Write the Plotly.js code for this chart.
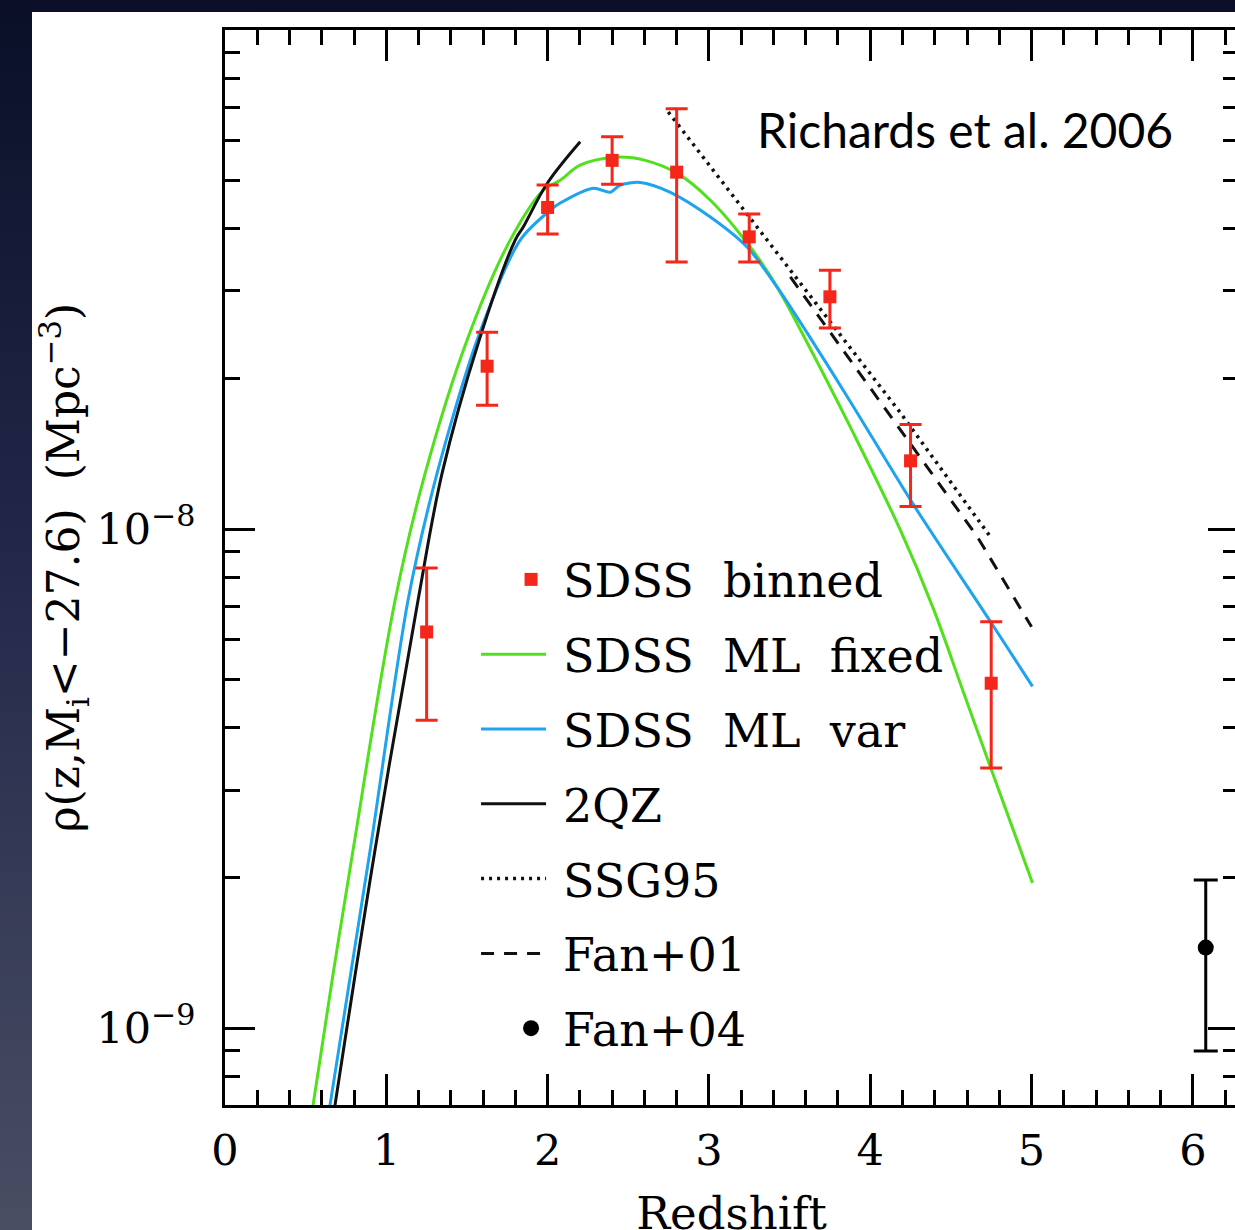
<!DOCTYPE html>
<html>
<head>
<meta charset="utf-8">
<script src="https://cdn.plot.ly/plotly-3.0.1.min.js"></script>
<style>
html,body{margin:0;padding:0;width:1235px;height:1230px;overflow:hidden;
  background:linear-gradient(to bottom,#0a0f27 0%,#23284a 45%,#4a4e63 100%);}
#plot{position:absolute;left:32px;top:12px;}
/* longer legend line samples and markers placed like the original */
#plot .legend .js-line{d:path('M18,0h65');}
#plot .legend .legendpoints .scatterpts{transform:translate(68px,0px);}
</style>
</head>
<body>
<div id="plot"></div>
<script>
// ---- SDSS binned ----
const zBinned   = [1.25, 1.625, 2.0, 2.4, 2.8, 3.25, 3.75, 4.25, 4.75];
const rhoBinned = [6.22e-9, 2.12e-8, 4.41e-8, 5.48e-8, 5.19e-8, 3.85e-8, 2.92e-8, 1.37e-8, 4.91e-9];
const rhoBinnedHi = [8.36e-9, 2.48e-8, 4.89e-8, 6.11e-8, 6.95e-8, 4.28e-8, 3.30e-8, 1.62e-8, 6.52e-9];
const rhoBinnedLo = [4.14e-9, 1.77e-8, 3.90e-8, 4.91e-8, 3.43e-8, 3.43e-8, 2.53e-8, 1.11e-8, 3.32e-9];

// ---- SDSS ML fixed (green) ----
const zFixed   = [0.546, 0.664, 0.794, 1.055, 1.241, 1.501, 1.768, 1.973, 2.078, 2.202, 2.419, 2.605, 2.804, 3.009, 3.257, 3.424, 3.610, 3.877, 4.187, 4.392, 4.578, 4.746, 5.006];
const rhoFixed = [7.01e-10, 1.247e-9, 2.275e-9, 7.21e-9, 1.294e-8, 2.393e-8, 3.793e-8, 4.775e-8, 5.00e-8, 5.36e-8, 5.56e-8, 5.48e-8, 5.16e-8, 4.56e-8, 3.67e-8, 3.05e-8, 2.36e-8, 1.60e-8, 9.95e-9, 6.92e-9, 4.71e-9, 3.33e-9, 1.954e-9];

// ---- SDSS ML var (blue) ----
const zVar   = [0.651, 0.900, 1.135, 1.315, 1.563, 1.830, 2.016, 2.078, 2.283, 2.388, 2.450, 2.574, 2.761, 3.009, 3.238, 3.424, 3.610, 3.877, 4.262, 4.746, 5.006];
const rhoVar = [7.01e-10, 2.275e-9, 7.21e-9, 1.294e-8, 2.393e-8, 3.793e-8, 4.355e-8, 4.50e-8, 4.82e-8, 4.73e-8, 4.89e-8, 4.95e-8, 4.73e-8, 4.22e-8, 3.67e-8, 3.05e-8, 2.47e-8, 1.80e-8, 1.127e-8, 6.52e-9, 4.84e-9];

// ---- 2QZ (black) ----
const z2QZ   = [0.682, 0.930, 1.197, 1.346, 1.576, 1.799, 1.849, 1.998, 2.202];
const rho2QZ = [7.01e-10, 2.275e-9, 7.21e-9, 1.294e-8, 2.393e-8, 3.793e-8, 4.03e-8, 4.93e-8, 5.97e-8];

// ---- SSG95 (dotted) ----
const zSSG   = [2.748, 4.187, 4.746];
const rhoSSG = [6.85e-8, 1.71e-8, 9.64e-9];

// ---- Fan+01 (dashed) ----
const zFan01   = [3.505, 4.665, 5.0];
const rhoFan01 = [3.20e-8, 9.64e-9, 6.37e-9];

// ---- Fan+04 ----
const zFan04 = [6.08];
const rhoFan04 = [1.45e-9];
const rhoFan04Hi = [1.98e-9];
const rhoFan04Lo = [0.90e-9];

// tick labels
const yTickVals = [1e-9, 1e-8, 1e-7];
const yTickText = ['10<sup>\u22129</sup>', '10<sup>\u22128</sup>', '10<sup>\u22127</sup>'];

const serif = 'DejaVu Serif';
const RED = '#f5261a', GREEN = '#52e01e', BLUE = '#1ea4ee';

function diff(a, b) { return a.map((v, i) => v - b[i]); }

const minorY = [];
for (let e = -10; e <= -7; e++) for (let d = 2; d <= 9; d++) minorY.push(d * Math.pow(10, e));

const traces = [
  {x: zFixed, y: rhoFixed, mode: 'lines', name: 'SDSS\u00a0\u00a0ML\u00a0\u00a0fixed', legendgroup: 'g2', legendrank: 2,
   line: {color: GREEN, width: 3, shape: 'spline', smoothing: 1.0}},
  {x: zVar, y: rhoVar, mode: 'lines', name: 'SDSS\u00a0\u00a0ML\u00a0\u00a0var', legendgroup: 'g3', legendrank: 3,
   line: {color: BLUE, width: 3, shape: 'spline', smoothing: 0.8}},
  {x: z2QZ, y: rho2QZ, mode: 'lines', name: '2QZ', legendgroup: 'g4', legendrank: 4,
   line: {color: '#111111', width: 3, shape: 'spline', smoothing: 1.0}},
  {x: zSSG, y: rhoSSG, mode: 'lines', name: 'SSG95', legendgroup: 'g5', legendrank: 5,
   line: {color: '#111111', width: 3.5, dash: '3px,5px'}},
  {x: zFan01, y: rhoFan01, mode: 'lines', name: 'Fan+01', legendgroup: 'g6', legendrank: 6,
   line: {color: '#111111', width: 3, dash: '13px,10px'}},
  {x: zBinned, y: rhoBinned, mode: 'markers', name: 'SDSS\u00a0\u00a0binned', legendgroup: 'g1', legendrank: 1,
   marker: {symbol: 'square', size: 13, color: RED},
   error_y: {type: 'data', symmetric: false, array: diff(rhoBinnedHi, rhoBinned), arrayminus: diff(rhoBinned, rhoBinnedLo),
             color: RED, thickness: 3, width: 11}},
  {x: zFan04, y: rhoFan04, mode: 'markers', name: 'Fan+04', legendgroup: 'g7', legendrank: 7,
   marker: {symbol: 'circle', size: 16, color: '#000000'},
   error_y: {type: 'data', symmetric: false, array: diff(rhoFan04Hi, rhoFan04), arrayminus: diff(rhoFan04, rhoFan04Lo),
             color: '#000000', thickness: 3, width: 12}}
];

const tickFont = {family: serif, size: 43, color: '#000'};
const titleFont = {family: serif, size: 45, color: '#000'};

const layout = {
  width: 1235, height: 1250,
  margin: {l: 193, r: 29, t: 18, b: 157, pad: 0},
  paper_bgcolor: '#ffffff', plot_bgcolor: '#ffffff',
  showlegend: true,
  legend: {x: 0.235, y: 0.5228, xanchor: 'left', yanchor: 'top', bgcolor: 'rgba(0,0,0,0)',
           font: {family: serif, size: 46, color: '#000'}, tracegroupgap: 12, itemwidth: 90},
  xaxis: {range: [0, 6.28], showgrid: false, zeroline: false, showline: true, linecolor: '#000', linewidth: 3,
          mirror: 'ticks', ticks: 'inside', ticklen: 31, tickwidth: 3, tickcolor: '#000', dtick: 1, tick0: 0,
          minor: {ticks: 'inside', ticklen: 15, tickwidth: 3, tickcolor: '#000', dtick: 0.2, tick0: 0, showgrid: false},
          tickfont: tickFont, ticklabelstandoff: 5,
          title: {text: 'Redshift', font: titleFont, standoff: 24}},
  yaxis: {type: 'log', range: [-9.154, -7.0], showgrid: false, zeroline: false, showline: true, linecolor: '#000', linewidth: 3,
          mirror: 'ticks', ticks: 'inside', ticklen: 30, tickwidth: 3, tickcolor: '#000',
          tickmode: 'array', tickvals: yTickVals, ticktext: yTickText,
          minor: {ticks: 'inside', ticklen: 15, tickwidth: 3, tickcolor: '#000', tickmode: 'array', tickvals: minorY, showgrid: false},
          tickfont: tickFont, ticklabelstandoff: 18,
          title: {text: '\u03c1(z,M<sub>i</sub>&lt;\u221227.6)\u00a0\u00a0(Mpc<sup>\u22123</sup>)', font: {family: serif, size: 44, color: '#000'}, standoff: 4}},
  annotations: [
    {text: 'Richards et al. 2006', xref: 'paper', yref: 'paper', x: 0.523, y: 0.907, xanchor: 'left', yanchor: 'middle',
     showarrow: false, font: {family: 'Lato', size: 48, color: '#000'}}
  ]
};

Plotly.newPlot('plot', traces, layout, {displayModeBar: false, staticPlot: true});
</script>
</body>
</html>
